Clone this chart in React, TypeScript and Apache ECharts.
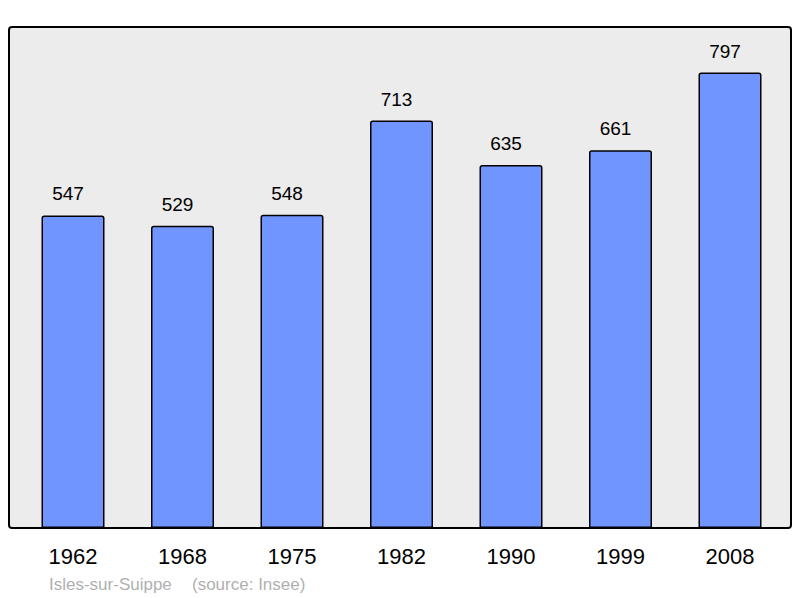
import React, { useEffect, useRef } from "react";
import * as echarts from "echarts";

const years = ["1962", "1968", "1975", "1982", "1990", "1999", "2008"];
const population = [547, 529, 548, 713, 635, 661, 797];
const placeName = "Isles-sur-Suippe";
const sourceText = "(source: Insee)";

const FONT = "'Liberation Sans', Arial, sans-serif";

export default function App() {
  const ref = useRef<HTMLDivElement>(null);
  useEffect(() => {
    if (!ref.current) return;
    const chart = echarts.init(ref.current, null, { renderer: "svg" });
    const maxVal = Math.max(...population) * 1.1;
    chart.setOption({
      animation: false,
      backgroundColor: "#ffffff",
      textStyle: { fontFamily: FONT },
      grid: { left: 18.25, right: 15.25, top: 27, bottom: 70, containLabel: false },
      graphic: [
        {
          type: "rect",
          z: -10,
          silent: true,
          shape: { x: 9, y: 27, width: 782, height: 501, r: 3 },
          style: { fill: "#ececec", stroke: "#000000", lineWidth: 2 },
        },
        {
          type: "text",
          left: 49,
          top: 576,
          silent: true,
          style: { text: placeName, fill: "#b0b0b0", fontSize: 17, fontFamily: FONT },
        },
        {
          type: "text",
          left: 192,
          top: 576,
          silent: true,
          style: { text: sourceText, fill: "#b0b0b0", fontSize: 17, fontFamily: FONT },
        },
      ],
      xAxis: {
        type: "category",
        data: years,
        axisLine: { show: false },
        axisTick: { show: false },
        axisLabel: { color: "#000000", fontSize: 22, margin: 17, fontFamily: FONT },
      },
      yAxis: {
        type: "value",
        min: 0,
        max: maxVal,
        show: false,
        splitLine: { show: false },
      },
      series: [
        {
          type: "bar",
          data: population,
          barWidth: 63,
          z: 5,
          itemStyle: {
            color: "#7095ff",
            borderColor: "#000000",
            borderWidth: 1.5,
            borderRadius: [2, 2, 0, 0],
          },
          label: {
            show: true,
            position: "top",
            distance: 12,
            offset: [-5, 0],
            color: "#000000",
            fontSize: 19,
            fontFamily: FONT,
          },
        },
      ],
    });
    return () => chart.dispose();
  }, []);
  return (
    <div
      ref={ref}
      style={{ position: "absolute", left: 0, top: 0, width: 800, height: 598 }}
    />
  );
}
